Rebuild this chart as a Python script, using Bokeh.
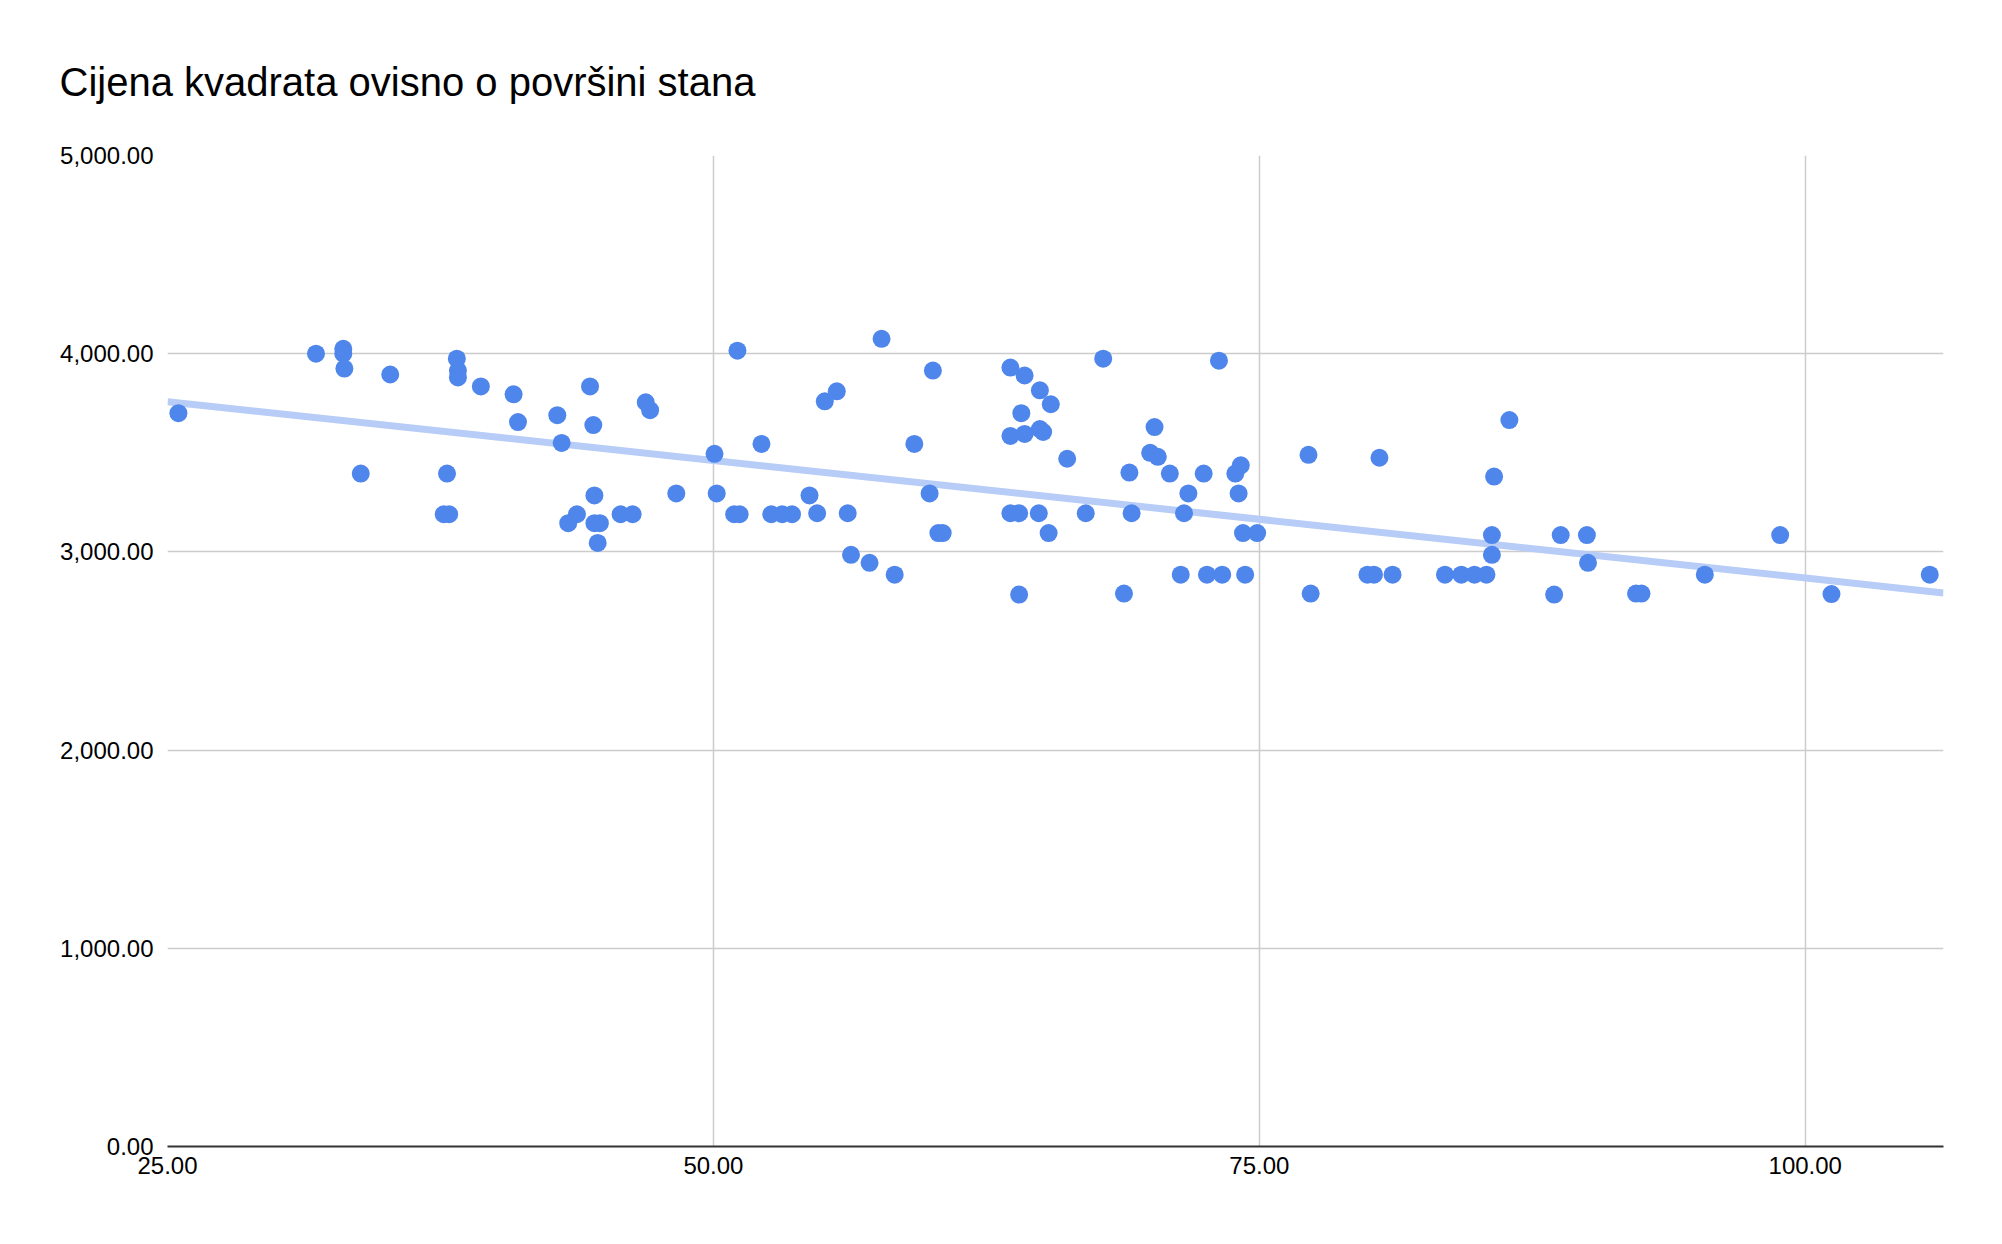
from bokeh.plotting import figure
from bokeh.models import Range1d, NumeralTickFormatter, FixedTicker, ColumnDataSource
from bokeh.embed import file_html
from bokeh.resources import INLINE

title_text = "Cijena kvadrata ovisno o površini stana"

# površina stana (m²)
area = [
    25.5, 31.8, 33.05, 33.05, 33.1, 33.85, 35.2, 37.65, 37.9, 37.8,
    38.25, 38.3, 38.3, 39.35, 40.85, 41.05, 42.85, 43.05, 43.35, 43.75,
    44.35, 44.5, 44.55, 44.55, 44.8, 44.7, 45.75, 46.3, 46.9, 47.1,
    48.3, 50.05, 50.15, 50.95, 51.2, 51.1, 52.2, 52.65, 53.15, 53.6,
    54.4, 54.75, 55.1, 55.65, 56.15, 56.3, 57.15, 57.7, 58.3, 59.2,
    59.9, 60.05, 60.3, 60.5, 63.6, 63.6, 63.6, 64.0, 64.0, 64.1,
    64.25, 64.25, 64.95, 64.95, 65.1, 64.9, 65.45, 65.35, 66.2, 67.05,
    67.85, 68.8, 69.05, 69.15, 70.0, 70.2, 70.35, 70.9, 71.4, 71.55,
    71.75, 72.45, 72.6, 73.3, 73.15, 73.9, 74.15, 74.05, 74.25, 74.35,
    74.9, 77.25, 77.35, 79.95, 80.25, 81.1, 80.5, 83.5, 84.25, 84.85,
    85.4, 85.65, 85.65, 85.75, 86.45, 88.5, 88.8, 90.0, 90.05, 92.25,
    92.5, 95.4, 98.85, 101.2, 105.7,
]

# cijena kvadrata (po m²)
price = [
    3700, 4000, 4025, 4000, 3925, 3395, 3895, 3190, 3190, 3395,
    3975, 3915, 3880, 3835, 3795, 3655, 3690, 3550, 3145, 3190,
    3835, 3640, 3285, 3145, 3145, 3045, 3190, 3190, 3755, 3715,
    3295, 3495, 3295, 3190, 3190, 4015, 3545, 3190, 3190, 3190,
    3285, 3195, 3760, 3810, 3195, 2985, 2945, 4075, 2885, 3545,
    3295, 3915, 3095, 3095, 3930, 3585, 3195, 3195, 2785, 3700,
    3890, 3595, 3815, 3620, 3605, 3195, 3745, 3095, 3470, 3195,
    3975, 2790, 3400, 3195, 3500, 3630, 3480, 3395, 2885, 3195,
    3295, 3395, 2885, 2885, 3965, 3395, 3437, 3295, 3095, 2885,
    3095, 3490, 2790, 2885, 2885, 2885, 3475, 2885, 2885, 2885,
    2885, 3085, 2985, 3380, 3665, 2785, 3085, 3085, 2945, 2790,
    2790, 2885, 3085, 2787, 2885,
]

# linear trendline (value at each end of the x axis)
trend_area = [25, 106.33]
trend_price = [3758, 2793]

x_ticks = [25, 50, 75, 100]
y_ticks = [0, 1000, 2000, 3000, 4000, 5000]
x_min, x_max = 25, 106.33
y_min, y_max = 0, 5000

FONT = "Liberation Sans"
POINT = "#4f86ec"
TREND = "#b7ccf6"
GRID = "#cccccc"

p = figure(
    width=1986, height=1228,
    output_backend="svg", toolbar_location=None,
    x_range=Range1d(x_min, x_max), y_range=Range1d(y_min, y_max),
    min_border_left=167, min_border_right=43,
    min_border_top=155, min_border_bottom=82,
    title=title_text,
)
p.outline_line_color = None
p.background_fill_color = "white"
p.border_fill_color = "white"

p.title.text_font = FONT
p.title.text_font_size = "40px"
p.title.text_font_style = "normal"
p.title.text_color = "#000000"
p.title.align = "left"
p.title.offset = -108
p.title.standoff = 104

# axes
p.xaxis.ticker = FixedTicker(ticks=x_ticks)
p.yaxis.ticker = FixedTicker(ticks=y_ticks)
p.xaxis.formatter = NumeralTickFormatter(format="0,0.00")
p.yaxis.formatter = NumeralTickFormatter(format="0,0.00")
for ax in (p.xaxis, p.yaxis):
    ax.major_label_text_font = FONT
    ax.major_label_text_font_size = "24px"
    ax.major_label_text_color = "#000000"
    ax.major_tick_line_color = None
    ax.minor_tick_line_color = None
p.yaxis.axis_line_color = None
p.yaxis.major_label_standoff = 8
p.xaxis.axis_line_color = "#333333"
p.xaxis.axis_line_width = 2
p.xaxis.major_label_standoff = 4

p.xgrid.grid_line_color = GRID
p.xgrid.grid_line_width = 1.5
p.ygrid.grid_line_color = GRID
p.ygrid.grid_line_width = 1.5

p.line(trend_area, trend_price, line_color=TREND, line_width=7)

src = ColumnDataSource(dict(x=area, y=price))
p.scatter("x", "y", source=src, size=18, fill_color=POINT, line_color=None)

open("out.html", "w").write(file_html(p, INLINE))
